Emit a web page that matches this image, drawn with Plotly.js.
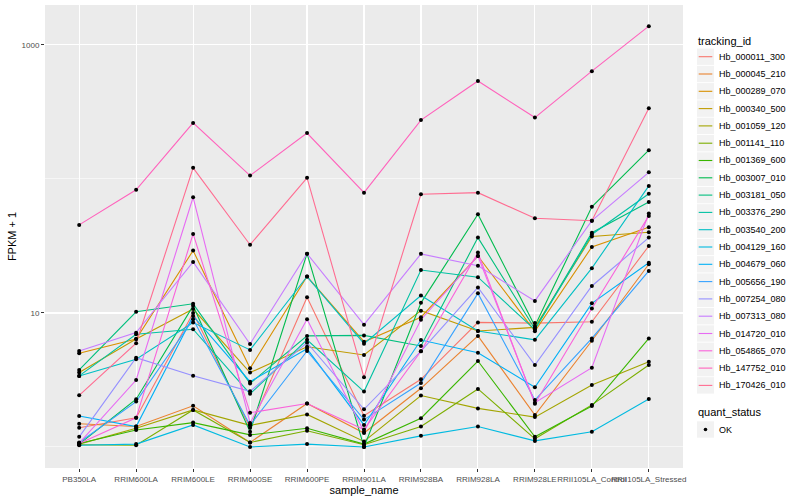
<!DOCTYPE html>
<html><head><meta charset="utf-8">
<script src="https://cdn.plot.ly/plotly-3.0.1.min.js"></script>
<style>body{margin:0;background:#fff;} #chart{width:800px;height:500px;}</style>
</head><body><div id="chart"></div>
<script>
const samples = ["PB350LA","RRIM600LA","RRIM600LE","RRIM600SE","RRIM600PE","RRIM901LA","RRIM928BA","RRIM928LA","RRIM928LE","RRII105LA_Control","RRII105LA_Stressed"];
const trackingIds = ["Hb_000011_300","Hb_000045_210","Hb_000289_070","Hb_000340_500","Hb_001059_120","Hb_001141_110","Hb_001369_600","Hb_003007_010","Hb_003181_050","Hb_003376_290","Hb_003540_200","Hb_004129_160","Hb_004679_060","Hb_005656_190","Hb_007254_080","Hb_007313_080","Hb_014720_010","Hb_054865_070","Hb_147752_010","Hb_170426_010"];
const colors = ["#F8766D","#EA8331","#D89000","#C09B00","#A3A500","#7CAE00","#39B600","#00BB4E","#00BF7D","#00C1A3","#00BFC4","#00BAE0","#00B0F6","#35A2FF","#9590FF","#C77CFF","#E76BF3","#FA62DB","#FF62BC","#FF6C91"];
const quantStatus = ["OK"];

// FPKM + 1 per sample
const Hb_000011_300 = [1.39, 1.65, 10.0, 1.39, 13.1, 1.71, 3.2, 8.5, 8.4, 8.6, 31.6];
const Hb_000045_210 = [1.49, 1.42, 2.03, 1.08, 2.11, 1.27, 2.74, 6.74, 1.73, 6.2, 23.1];
const Hb_000289_070 = [5.0, 6.4, 29.2, 3.86, 18.7, 6.1, 9.3, 26.6, 7.3, 31.1, 43.6];
const Hb_000340_500 = [3.59, 6.4, 10.7, 3.59, 5.6, 4.86, 10.4, 7.33, 7.8, 37.2, 40.0];
const Hb_001059_120 = [1.05, 1.38, 1.89, 1.45, 1.75, 1.1, 2.42, 1.94, 1.67, 2.9, 4.33];
const Hb_001141_110 = [1.04, 1.03, 1.89, 1.08, 1.32, 1.04, 1.42, 2.71, 1.15, 2.06, 4.09];
const Hb_001369_600 = [1.06, 1.34, 1.52, 1.23, 1.38, 1.05, 1.64, 4.38, 1.19, 2.02, 6.46];
const Hb_003007_010 = [1.05, 2.27, 11.3, 1.3, 27.7, 1.0, 11.9, 54.5, 8.0, 62, 164];
const Hb_003181_050 = [3.76, 10.2, 11.7, 2.98, 6.74, 6.8, 5.67, 36.5, 7.6, 39.7, 67.4];
const Hb_003376_290 = [3.39, 6.93, 7.56, 2.49, 6.3, 2.59, 20.9, 18.5, 7.5, 38.5, 77.6];
const Hb_003540_200 = [3.39, 4.51, 8.48, 5.3, 18.7, 5.9, 13.5, 7.33, 6.3, 21.6, 88.7];
const Hb_004129_160 = [1.03, 1.05, 1.46, 1.0, 1.05, 1.0, 1.21, 1.42, 1.11, 1.3, 2.28];
const Hb_004679_060 = [1.70, 1.42, 9.5, 3.07, 5.4, 1.46, 6.28, 5.05, 2.79, 11.8, 23.7];
const Hb_005656_190 = [1.08, 2.18, 8.98, 1.45, 5.2, 1.6, 3.0, 14.0, 2.24, 6.46, 20.6];
const Hb_007254_080 = [1.19, 4.64, 3.4, 2.6, 6.0, 1.91, 5.18, 15.5, 4.09, 15.9, 36.5];
const Hb_007313_080 = [5.2, 7.13, 24.0, 5.87, 27.7, 8.18, 27.6, 22.5, 12.3, 48.8, 112];
const Hb_014720_010 = [1.07, 3.16, 73.0, 1.51, 8.97, 1.3, 8.9, 26.6, 2.14, 3.9, 55.3];
const Hb_054865_070 = [1.06, 1.65, 38.9, 1.8, 2.11, 1.35, 5.18, 28.2, 2.1, 10.8, 53.0];
const Hb_147752_010 = [45.4, 83, 262, 106, 220, 79, 275, 538, 287, 637, 1380];
const Hb_170426_010 = [2.43, 5.94, 121, 32.3, 102, 3.31, 76.9, 79, 50.9, 48.8, 337];

const series = [Hb_000011_300,Hb_000045_210,Hb_000289_070,Hb_000340_500,Hb_001059_120,Hb_001141_110,Hb_001369_600,Hb_003007_010,Hb_003181_050,Hb_003376_290,Hb_003540_200,Hb_004129_160,Hb_004679_060,Hb_005656_190,Hb_007254_080,Hb_007313_080,Hb_014720_010,Hb_054865_070,Hb_147752_010,Hb_170426_010];

const traces = series.map((vals, i) => ({
  type: 'scatter', mode: 'lines', x: samples, y: vals, name: trackingIds[i],
  line: {color: colors[i], width: 1.1}, showlegend: false, hoverinfo: 'skip'
}));
const px = [], py = [];
series.forEach(vals => vals.forEach((v, j) => { px.push(samples[j]); py.push(v); }));
traces.push({type: 'scatter', mode: 'markers', x: px, y: py, name: quantStatus[0],
  marker: {color: '#000', size: 4, symbol: 'circle'}, showlegend: false, hoverinfo: 'skip'});

// legend drawn in paper space (ggplot-style keys)
const M = {l: 45, r: 117, t: 5, b: 32}, PW = 800 - M.l - M.r, PH = 500 - M.t - M.b;
const fx = p => (p - M.l) / PW;
const fy = p => 1 - (p - M.t) / PH;
const shapes = [], annotations = [];
const keyX0 = 697, keyX1 = 714, textX = 716.5, step = 17.3, firstY = 56.7;
function title(text, yPix) {
  annotations.push({xref: 'paper', yref: 'paper', x: fx(696), y: fy(yPix), xanchor: 'left', yanchor: 'middle',
    text: text, showarrow: false, font: {size: 11, color: '#000'}});
}
function keyBox(cy) {
  shapes.push({type: 'rect', xref: 'paper', yref: 'paper', x0: fx(keyX0), x1: fx(keyX1),
    y0: fy(cy - 8.2), y1: fy(cy + 8.2), fillcolor: '#F2F2F2', line: {width: 0}, layer: 'above'});
}
function keyText(text, cy) {
  annotations.push({xref: 'paper', yref: 'paper', x: fx(textX), y: fy(cy), xanchor: 'left', yanchor: 'middle',
    text: text, showarrow: false, font: {size: 9, color: '#000'}});
}
title('tracking_id', 40.7);
trackingIds.forEach((id, i) => {
  const cy = firstY + step * i;
  keyBox(cy);
  shapes.push({type: 'line', xref: 'paper', yref: 'paper', x0: fx(698.7), x1: fx(712.3), y0: fy(cy), y1: fy(cy),
    line: {color: colors[i], width: 1.1}, layer: 'above'});
  keyText(id, cy);
});
title('quant_status', 412.3);
const okY = 429.5;
keyBox(okY);
shapes.push({type: 'circle', xref: 'paper', yref: 'paper', x0: fx(703.7), x1: fx(707.3), y0: fy(okY - 1.8), y1: fy(okY + 1.8),
  fillcolor: '#000', line: {width: 0}, layer: 'above'});
keyText(quantStatus[0], okY);

const layout = {
  width: 800, height: 500,
  paper_bgcolor: '#fff', plot_bgcolor: '#EBEBEB',
  margin: M,
  font: {family: 'Liberation Sans, Arial, sans-serif', color: '#000'},
  showlegend: false,
  xaxis: {type: 'category', range: [-0.6, 10.6], showgrid: true, gridcolor: '#fff', gridwidth: 1.1,
    zeroline: false, showline: false, ticks: 'outside', ticklen: 3, tickcolor: '#333', tickwidth: 1,
    tickfont: {size: 8, color: '#4D4D4D'}, tickangle: 0, automargin: false,
    title: {text: 'sample_name', font: {size: 11, color: '#000'}, standoff: 1}},
  yaxis: {type: 'log', range: [-0.157, 3.298], tickmode: 'array', tickvals: [10, 1000], ticktext: ['10', '1000'],
    showgrid: true, gridcolor: '#fff', gridwidth: 1.1, zeroline: false, showline: false,
    ticks: 'outside', ticklen: 3, tickcolor: '#333', tickwidth: 1,
    tickfont: {size: 8, color: '#4D4D4D'}, automargin: false,
    minor: {tickmode: 'array', tickvals: [1, 100], showgrid: true, gridcolor: '#fff', gridwidth: 0.55, ticks: ''},
    title: {text: 'FPKM + 1', font: {size: 11, color: '#000'}, standoff: 2}},
  shapes: shapes,
  annotations: annotations
};
Plotly.newPlot('chart', traces, layout, {displayModeBar: false, staticPlot: true});
</script></body></html>
